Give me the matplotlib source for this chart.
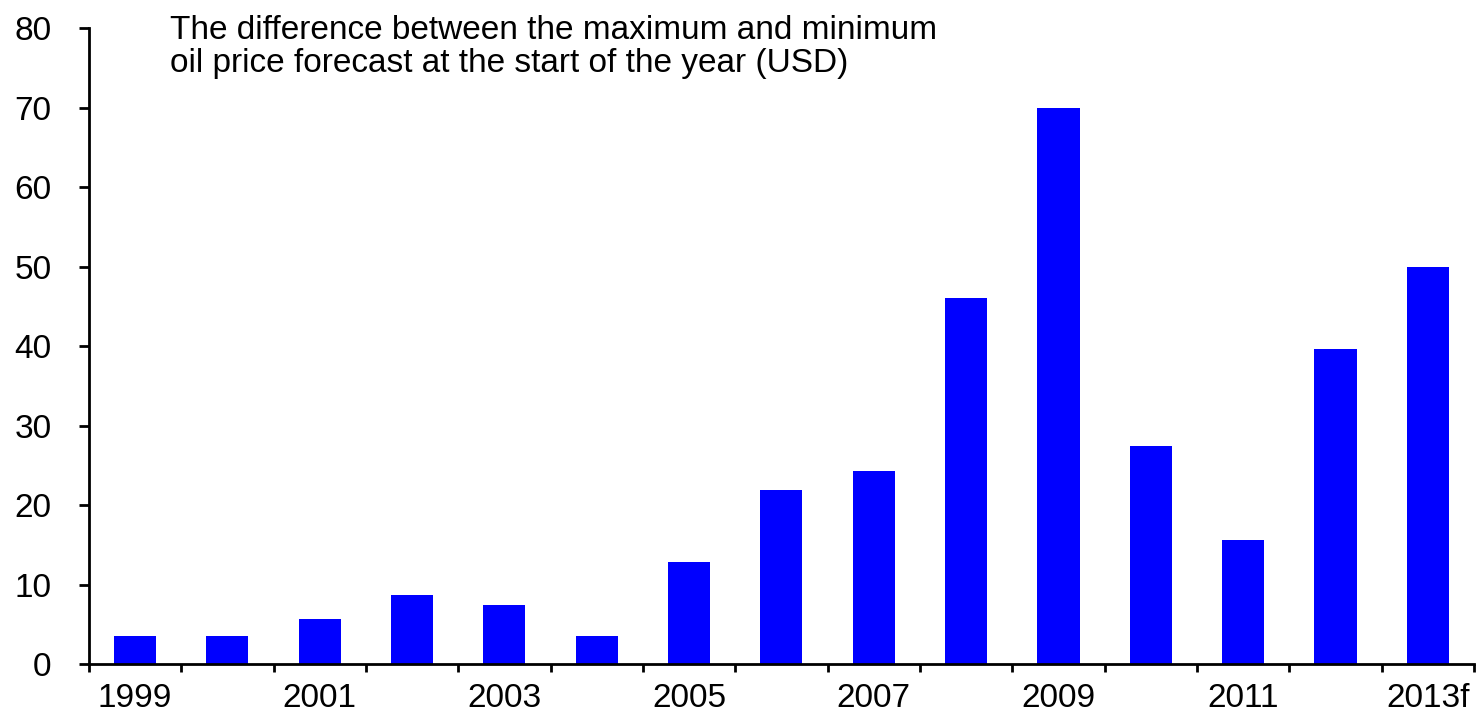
import numpy as np
import matplotlib.pyplot as plt
from matplotlib.ticker import FixedLocator

plt.rcParams['font.family'] = ['Liberation Sans', 'DejaVu Sans']

years = ['1999', '2000', '2001', '2002', '2003', '2004', '2005', '2006',
         '2007', '2008', '2009', '2010', '2011', '2012', '2013f']
spread = [3.5, 3.5, 5.7, 8.7, 7.4, 3.5, 12.8, 21.9, 24.3, 46.1, 70.0,
          27.4, 15.6, 39.6, 50.0]
title = ('The difference between the maximum and minimum\n'
         'oil price forecast at the start of the year (USD)')

fig = plt.figure(figsize=(14.78, 7.14), dpi=100)
ax = fig.add_axes([0.0602, 0.070, 0.9371, 0.8906])

x = np.arange(len(years))
ax.bar(x, spread, width=0.455, color='#0000ff', edgecolor='none')

ax.set_xlim(-0.5, len(years) - 0.5)
ax.set_ylim(0, 80)
ax.set_yticks(np.arange(0, 81, 10))

# labels on every other year, ticks on the category boundaries
ax.set_xticks(x[::2])
ax.set_xticklabels(years[::2])
ax.xaxis.set_minor_locator(FixedLocator(np.arange(-0.5, len(years), 1)))
ax.tick_params(axis='x', which='major', length=0, pad=14, labelsize=24)
ax.tick_params(axis='x', which='minor', length=6, width=2, direction='out')
ax.tick_params(axis='y', length=7, width=2, direction='out', pad=20,
               labelsize=24)

for side in ['top', 'right']:
    ax.spines[side].set_visible(False)
for side in ['left', 'bottom']:
    ax.spines[side].set_linewidth(2)

fig.text(170 / 1478, 1 - 15 / 714, title, fontsize=24,
         va='top', ha='left', linespacing=1.1)

fig.savefig('out.png', dpi=100)
